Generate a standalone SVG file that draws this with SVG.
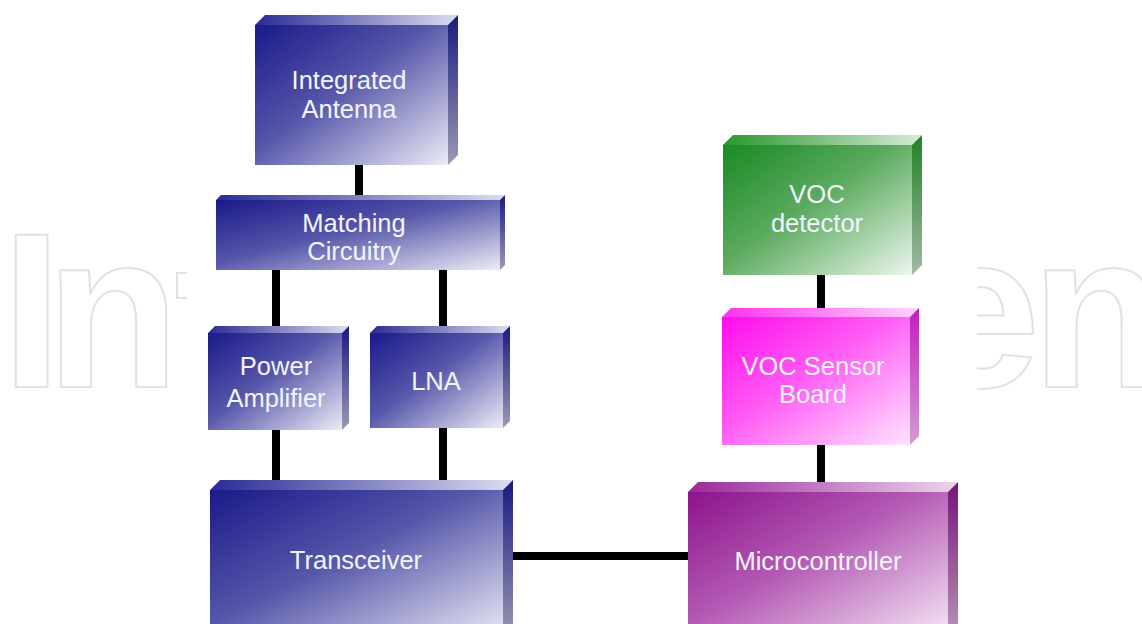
<svg xmlns="http://www.w3.org/2000/svg" width="1142" height="624" viewBox="0 0 1142 624">
  <defs>
    <!-- blue blocks -->
    <linearGradient id="bFront" x1="0" y1="0" x2="1" y2="1">
      <stop offset="0" stop-color="#1a1a8a"/>
      <stop offset="0.45" stop-color="#5656aa"/>
      <stop offset="1" stop-color="#ececf6"/>
    </linearGradient>
    <linearGradient id="bTop" x1="0" y1="0" x2="1" y2="0">
      <stop offset="0" stop-color="#2a2a96"/>
      <stop offset="1" stop-color="#dcdcee"/>
    </linearGradient>
    <linearGradient id="bSide" x1="0" y1="0" x2="0" y2="1">
      <stop offset="0" stop-color="#1a1a80"/>
      <stop offset="1" stop-color="#9a9ab4"/>
    </linearGradient>
    <!-- green block -->
    <linearGradient id="gFront" x1="0" y1="0" x2="1" y2="1">
      <stop offset="0" stop-color="#1a8a24"/>
      <stop offset="0.45" stop-color="#5aaa5e"/>
      <stop offset="1" stop-color="#ecf6ec"/>
    </linearGradient>
    <linearGradient id="gTop" x1="0" y1="0" x2="1" y2="0">
      <stop offset="0" stop-color="#2a962e"/>
      <stop offset="1" stop-color="#d6ecd6"/>
    </linearGradient>
    <linearGradient id="gSide" x1="0" y1="0" x2="0" y2="1">
      <stop offset="0" stop-color="#1e8424"/>
      <stop offset="1" stop-color="#a4b8a4"/>
    </linearGradient>
    <!-- magenta block -->
    <linearGradient id="mFront" x1="0" y1="0" x2="1" y2="1">
      <stop offset="0" stop-color="#ff0cee"/>
      <stop offset="0.45" stop-color="#ff5cf4"/>
      <stop offset="1" stop-color="#ffe4ff"/>
    </linearGradient>
    <linearGradient id="mTop" x1="0" y1="0" x2="1" y2="0">
      <stop offset="0" stop-color="#ff30f0"/>
      <stop offset="1" stop-color="#ffd4fc"/>
    </linearGradient>
    <linearGradient id="mSide" x1="0" y1="0" x2="0" y2="1">
      <stop offset="0" stop-color="#c41cc0"/>
      <stop offset="1" stop-color="#d29cd2"/>
    </linearGradient>
    <!-- purple block -->
    <linearGradient id="pFront" x1="0" y1="0" x2="1" y2="1">
      <stop offset="0" stop-color="#8c148c"/>
      <stop offset="0.45" stop-color="#b45ab4"/>
      <stop offset="1" stop-color="#f6eaf6"/>
    </linearGradient>
    <linearGradient id="pTop" x1="0" y1="0" x2="1" y2="0">
      <stop offset="0" stop-color="#9a2a9a"/>
      <stop offset="1" stop-color="#ecd4ec"/>
    </linearGradient>
    <linearGradient id="pSide" x1="0" y1="0" x2="0" y2="1">
      <stop offset="0" stop-color="#781478"/>
      <stop offset="1" stop-color="#b896b8"/>
    </linearGradient>
    <style>
      .lbl { font-family: "Liberation Sans", Arial, sans-serif; font-size: 25.5px; fill: #f4f4ff; text-anchor: middle; }
      .wm { font-family: "Liberation Sans", Arial, sans-serif; font-weight: bold; font-size: 220px; fill: #ffffff; stroke: #e2e2e2; stroke-width: 2; }
      .wm-line { fill: none; stroke: #e2e2e2; stroke-width: 2; }
      .wire { stroke: #000000; stroke-width: 8; fill: none; }
    </style>
  </defs>

  <rect x="0" y="0" width="1142" height="624" fill="#ffffff"/>

  <!-- background lettering -->
  <g id="watermark">
    <text class="wm" x="1 45.5" y="387">In</text>
    <path class="wm-line" d="M187,273 H177 V298 H187"/>
    <text class="wm" x="918 1031" y="387">en</text>
  </g>
  <rect x="187" y="0" width="790" height="624" fill="#ffffff"/>

  <!-- connectors -->
  <g id="connectors">
    <line class="wire" x1="359" y1="160" x2="359" y2="200"/>
    <line class="wire" x1="276" y1="265" x2="276" y2="336"/>
    <line class="wire" x1="443" y1="265" x2="443" y2="336"/>
    <line class="wire" x1="276" y1="425" x2="276" y2="492"/>
    <line class="wire" x1="443" y1="425" x2="443" y2="492"/>
    <line class="wire" x1="508" y1="556" x2="692" y2="556"/>
    <line class="wire" x1="821" y1="270" x2="821" y2="312"/>
    <line class="wire" x1="821" y1="440" x2="821" y2="490"/>
  </g>

  <!-- Integrated Antenna -->
  <g id="antenna">
    <polygon points="255,25 265,15 458,15 448,25" fill="url(#bTop)"/>
    <polygon points="448,25 458,15 458,155 448,165" fill="url(#bSide)"/>
    <rect x="255" y="25" width="193" height="140" fill="url(#bFront)"/>
    <text class="lbl" x="349" y="89">Integrated</text>
    <text class="lbl" x="349" y="118">Antenna</text>
  </g>

  <!-- Matching Circuitry -->
  <g id="matching">
    <polygon points="216,200 221,195 505,195 500,200" fill="url(#bTop)"/>
    <polygon points="500,200 505,195 505,265 500,270" fill="url(#bSide)"/>
    <rect x="216" y="200" width="284" height="70" fill="url(#bFront)"/>
    <text class="lbl" x="354" y="232">Matching</text>
    <text class="lbl" x="354" y="260">Circuitry</text>
  </g>

  <!-- Power Amplifier -->
  <g id="power-amplifier">
    <polygon points="208,333 215,326 349,326 342,333" fill="url(#bTop)"/>
    <polygon points="342,333 349,326 349,423 342,430" fill="url(#bSide)"/>
    <rect x="208" y="333" width="134" height="97" fill="url(#bFront)"/>
    <text class="lbl" x="276" y="375">Power</text>
    <text class="lbl" x="276" y="407">Amplifier</text>
  </g>

  <!-- LNA -->
  <g id="lna">
    <polygon points="370,333 377,326 510,326 503,333" fill="url(#bTop)"/>
    <polygon points="503,333 510,326 510,421 503,428" fill="url(#bSide)"/>
    <rect x="370" y="333" width="133" height="95" fill="url(#bFront)"/>
    <text class="lbl" x="436" y="390">LNA</text>
  </g>

  <!-- Transceiver -->
  <g id="transceiver">
    <polygon points="210,490 220,480 513,480 503,490" fill="url(#bTop)"/>
    <polygon points="503,490 513,480 513,630 503,640" fill="url(#bSide)"/>
    <rect x="210" y="490" width="293" height="150" fill="url(#bFront)"/>
    <text class="lbl" x="356" y="569">Transceiver</text>
  </g>

  <!-- VOC detector -->
  <g id="voc-detector">
    <polygon points="723,145 733,135 922,135 912,145" fill="url(#gTop)"/>
    <polygon points="912,145 922,135 922,265 912,275" fill="url(#gSide)"/>
    <rect x="723" y="145" width="189" height="130" fill="url(#gFront)"/>
    <text class="lbl" x="817" y="203">VOC</text>
    <text class="lbl" x="817" y="232">detector</text>
  </g>

  <!-- VOC Sensor Board -->
  <g id="voc-sensor-board">
    <polygon points="722,317 731,308 919,308 910,317" fill="url(#mTop)"/>
    <polygon points="910,317 919,308 919,436 910,445" fill="url(#mSide)"/>
    <rect x="722" y="317" width="188" height="128" fill="url(#mFront)"/>
    <text class="lbl" x="813" y="375">VOC Sensor</text>
    <text class="lbl" x="813" y="403">Board</text>
  </g>

  <!-- Microcontroller -->
  <g id="microcontroller">
    <polygon points="688,492 698,482 958,482 948,492" fill="url(#pTop)"/>
    <polygon points="948,492 958,482 958,630 948,640" fill="url(#pSide)"/>
    <rect x="688" y="492" width="260" height="148" fill="url(#pFront)"/>
    <text class="lbl" x="818" y="570">Microcontroller</text>
  </g>
</svg>
